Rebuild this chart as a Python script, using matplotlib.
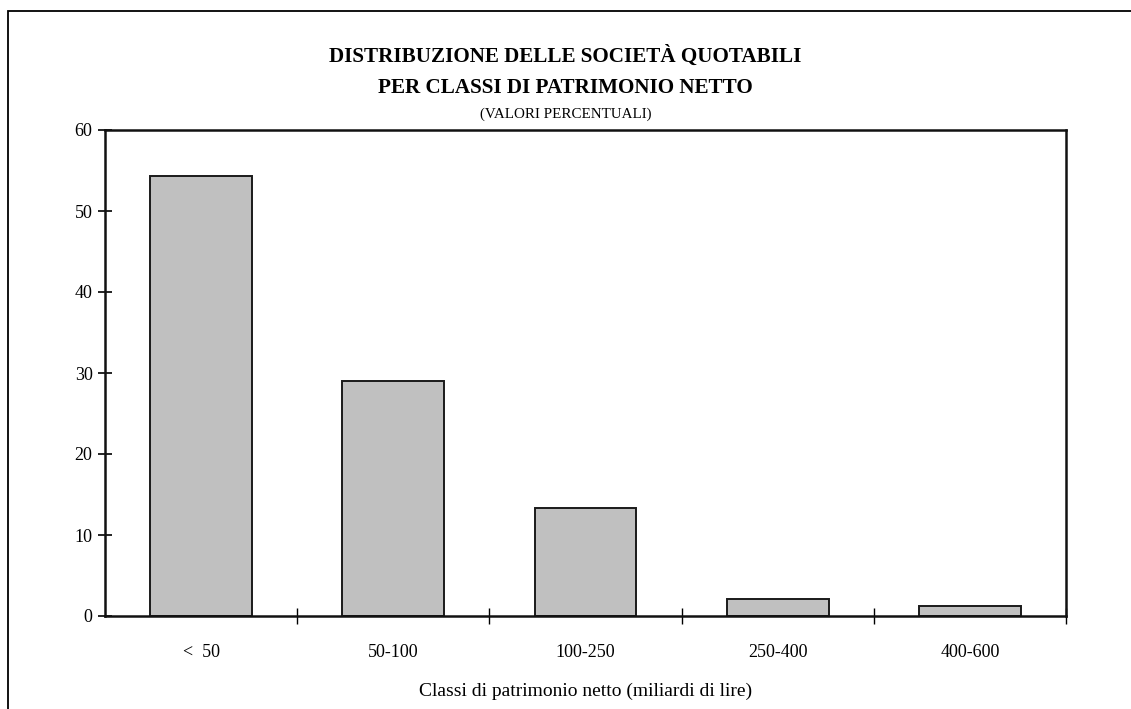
import matplotlib
matplotlib.use('Agg')
import matplotlib.pyplot as plt
import matplotlib.patches as mpatches
import numpy as np

classes = ['<  50', '50-100', '100-250', '250-400', '400-600']
percent = [54.3, 29.0, 13.3, 2.1, 1.2]
y_ticks = [0, 10, 20, 30, 40, 50, 60]

plt.rcParams['font.family'] = ['Liberation Serif', 'DejaVu Serif']

fig = plt.figure(figsize=(11.31, 7.09), dpi=100)
ax = fig.add_axes([105 / 1131, 1 - 616 / 709, (1066 - 105) / 1131, (616 - 130) / 709])

x = np.arange(len(classes))
ax.bar(x, percent, width=0.53, color='#c0c0c0', edgecolor='#1a1a1a', linewidth=1.4, zorder=2)

ax.set_xlim(-0.5, len(classes) - 0.5)
ax.set_ylim(0, 60)
ax.set_yticks(y_ticks)
ax.tick_params(axis='y', direction='inout', length=10, width=1.2, labelsize=13, pad=4)

# category labels centred, tick marks at the class boundaries
ax.set_xticks(x)
ax.set_xticklabels(classes)
ax.tick_params(axis='x', which='major', length=0, labelsize=13, pad=20)
ax.set_xticks(np.arange(0.5, len(classes) + 0.5), minor=True)
ax.tick_params(axis='x', which='minor', direction='inout', length=12, width=1.0)
ax.set_xlabel('Classi di patrimonio netto (miliardi di lire)', fontsize=14, labelpad=16)

for s in ax.spines.values():
    s.set_linewidth(1.8)
    s.set_color('#111111')

fig.text(0.5, 1 - 56 / 709, 'DISTRIBUZIONE DELLE SOCIETÀ QUOTABILI', ha='center', va='center',
         fontsize=15.2, fontweight='bold')
fig.text(0.5, 1 - 88 / 709, 'PER CLASSI DI PATRIMONIO NETTO', ha='center', va='center',
         fontsize=15.2, fontweight='bold')
fig.text(0.5, 1 - 114 / 709, '(VALORI PERCENTUALI)', ha='center', va='center', fontsize=10.8)

# outer frame of the page figure
frame = mpatches.Rectangle((8 / 1131, -0.05), 1.0, 1 - 11 / 709 + 0.05, transform=fig.transFigure,
                           fill=False, edgecolor='black', linewidth=1.3, clip_on=False)
fig.patches.append(frame)
fig.text(1 - 3 / 1131, 1 + 5 / 709, 'FIG. 1.', ha='right', va='center', fontsize=13)

fig.savefig('out.png', dpi=100)
